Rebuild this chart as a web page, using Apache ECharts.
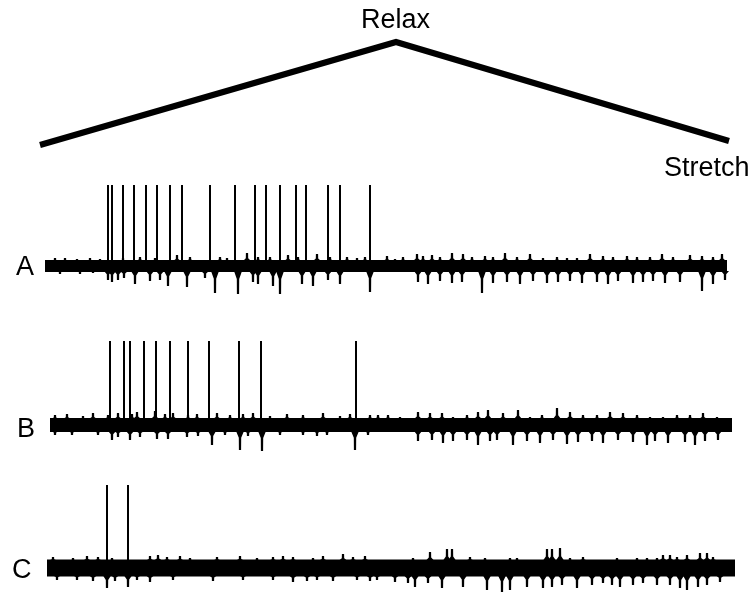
<!DOCTYPE html>
<html><head><meta charset="utf-8">
<script src="https://cdn.jsdelivr.net/npm/echarts@6/dist/echarts.min.js"></script>
<style>html,body{margin:0;padding:0;background:#fff}#c{width:755px;height:592px}</style>
</head><body><div id="c"></div>
<script>
// ---- Stimulus (muscle length ramp): time, relative length ----
const stimTime = [0, 356, 689];
const stimLength = [0, 103, 4];
const stimLabels = ['Relax', 'Stretch'];
const traceLabels = ['A', 'B', 'C'];

// ---- Trace A ----
const aSpan = [5, 687];
const aSpikes = [68, 72, 83, 94, 106, 117, 130, 142, 170, 195, 215, 226, 240, 256, 266, 288, 300, 330];
const aSpikeAmp = 81;
const aUp = [[15,8],[25,8],[37,7],[50,8],[60,7],
  [83,8],[100,9],[115,8],[137,11],[150,9],[180,9],[187,8],[207,13],[218,9],[230,9],[248,11],[258,9],[277,12],[290,9],[307,9],[317,8],[325,9],
  [347,10],[355,7],[363,9],[377,12],[383,10],[392,11],[400,9],[412,13],[423,12],[432,9],[445,10],[453,9],[465,13],[477,9],[490,12],[503,8],[517,9],[527,8],[537,8],[550,12],[563,10],[573,9],[587,10],[597,9],[610,9],[622,12],[633,9],[650,11],[662,10],[673,9],[682,12]];
const aDown = [[20,-8],[40,-8],[53,-7],
  [68,-14],[72,-16],[78,-14],[84,-12],[95,-18],[110,-15],[120,-14],[128,-20],[147,-21],[165,-12],[175,-27],[198,-28],[213,-16],[218,-18],[233,-20],[240,-28],[262,-18],[273,-20],[288,-14],[300,-18],[330,-26],
  [378,-16],[388,-18],[400,-15],[412,-17],[422,-16],[442,-27],[453,-17],[467,-16],[480,-18],[493,-15],[507,-17],[518,-16],[530,-15],[542,-17],[557,-16],[568,-18],[578,-15],[593,-17],[603,-16],[613,-15],[625,-17],[640,-16],[662,-25],[673,-18],[685,-14]];

// ---- Trace B ----
const bSpan = [10, 692];
const bSpikes = [70, 84, 90, 104, 116, 130, 148, 169, 199, 221, 316];
const bSpikeAmp = 84;
const bUp = [[15,10],[27,11],[43,9],[53,12],[68,10],[78,12],[92,11],[97,13],[115,14],[125,11],[133,12],[148,10],[157,11],[177,12],[190,10],[203,11],[213,12],[230,9],[247,11],[263,10],[283,12],[300,9],[310,11],[330,10],
  [338,10],[348,10],[360,8],[378,13],[390,12],[402,12],[413,8],[427,10],[438,13],[448,15],[463,12],[478,15],[490,8],[502,10],[517,17],[530,13],[543,10],[557,10],[570,13],[583,12],[597,10],[610,8],[623,8],[637,10],[650,10],[663,12],[677,8]];
const bDown = [[15,-10],[32,-10],[58,-10],[72,-15],[78,-12],[90,-15],[100,-12],[117,-14],[128,-14],[147,-12],[158,-11],[172,-20],[185,-10],[200,-25],[208,-11],[222,-26],[240,-10],[263,-10],[277,-11],[287,-10],[315,-25],[328,-10],
  [378,-16],[392,-15],[403,-18],[413,-16],[427,-15],[438,-20],[450,-16],[457,-15],[473,-20],[487,-16],[500,-18],[513,-15],[527,-19],[538,-17],[552,-16],[563,-18],[578,-15],[593,-17],[607,-20],[615,-16],[628,-18],[645,-17],[655,-20],[665,-16],[678,-15]];

// ---- Trace C ----
const cSpan = [7, 695];
const cSpikes = [67, 88];
const cSpikeAmp = 83;
const cUp = [[13,11],[33,10],[47,12],[58,11],[72,10],[110,12],[118,13],[127,11],[140,12],[150,10],[177,11],[200,12],[217,10],[233,11],[243,12],[253,11],[273,10],[283,12],[303,14],[313,11],[325,12],
  [373,10],[390,16],[407,19],[412,19],[430,11],[445,10],[465,8],[470,10],[477,10],[507,19],[512,19],[520,20],[530,10],[543,11],[557,8],[563,8],[577,10],[587,8],[597,10],[607,10],[617,10],[623,13],[630,13],[637,11],[647,13],[660,15],[667,15],[673,11],[688,8]];
const cDown = [[17,-12],[37,-12],[53,-13],[67,-20],[75,-13],[88,-19],[97,-12],[110,-14],[133,-12],[173,-13],[203,-12],[233,-12],[253,-14],[267,-13],[277,-12],[293,-13],[317,-12],[330,-13],
  [337,-12],[355,-14],[368,-15],[375,-19],[388,-15],[402,-20],[423,-19],[447,-22],[462,-24],[470,-22],[487,-19],[503,-20],[512,-19],[522,-17],[537,-20],[552,-17],[563,-15],[572,-17],[580,-19],[593,-17],[603,-15],[617,-17],[630,-17],[640,-20],[647,-22],[658,-19],[667,-17],[680,-14]];

// ---- layout ----
const gridTops = [176, 335, 478];
const bandWidths = [12, 14, 17];
const traces = [
  {span: aSpan, spikes: aSpikes, amp: aSpikeAmp, up: aUp, down: aDown},
  {span: bSpan, spikes: bSpikes, amp: bSpikeAmp, up: bUp, down: bDown},
  {span: cSpan, spikes: cSpikes, amp: cSpikeAmp, up: cUp, down: cDown}
];

function stick(w) {
  return function (params, api) {
    const p0 = api.coord([api.value(0), 0]);
    const p1 = api.coord([api.value(0), api.value(1)]);
    return {type: 'line', shape: {x1: p0[0], y1: p0[1], x2: p1[0], y2: p1[1]},
      style: {stroke: '#000', lineWidth: w, lineCap: 'butt'}};
  };
}
// tapered noise deflection: wide where it leaves the band, thin at the tip
function wedge(band) {
  return function (params, api) {
    const p0 = api.coord([api.value(0), 0]);
    const p1 = api.coord([api.value(0), api.value(1)]);
    const dir = p1[1] < p0[1] ? -1 : 1;
    const x = p0[0];
    const yEdge = p0[1] + dir * (band / 2 - 1);
    const yMid = yEdge + (p1[1] - yEdge) * 0.35;
    return {type: 'polygon', shape: {points: [
      [x - 4, yEdge], [x - 1.2, yMid], [x - 1.1, p1[1]], [x + 1.1, p1[1]], [x + 1.2, yMid], [x + 4, yEdge]
    ]}, style: {fill: '#000'}};
  };
}

const grid = [{left: 40, width: 700, top: 35, height: 110}];
const xAxis = [{gridIndex: 0, type: 'value', min: 0, max: 700, show: false}];
const yAxis = [{gridIndex: 0, type: 'value', min: 0, max: 110, show: false}];
const series = [{
  type: 'line', xAxisIndex: 0, yAxisIndex: 0, symbol: 'none', clip: false,
  data: stimTime.map((t, i) => [t, stimLength[i]]),
  lineStyle: {color: '#000', width: 6, cap: 'butt', join: 'miter'}
}];

traces.forEach((tr, k) => {
  const gi = k + 1;
  grid.push({left: 40, width: 700, top: gridTops[k], height: 114});
  xAxis.push({gridIndex: gi, type: 'value', min: 0, max: 700, show: false});
  yAxis.push({gridIndex: gi, type: 'value', min: -24, max: 90, show: false});
  series.push({
    type: 'line', xAxisIndex: gi, yAxisIndex: gi, symbol: 'none', clip: false,
    data: tr.span.map(t => [t, 0]),
    lineStyle: {color: '#000', width: bandWidths[k], cap: 'butt'}
  });
  series.push({
    type: 'custom', xAxisIndex: gi, yAxisIndex: gi, clip: false,
    renderItem: wedge(bandWidths[k]), data: tr.up.concat(tr.down)
  });
  series.push({
    type: 'custom', xAxisIndex: gi, yAxisIndex: gi, clip: false,
    renderItem: stick(2), data: tr.spikes.map(t => [t, tr.amp])
  });
});

const font = '"Liberation Sans", Arial, sans-serif';
const graphic = [
  {type: 'text', left: 361, top: 7, style: {text: stimLabels[0], font: '27px ' + font, fill: '#000'}},
  {type: 'text', left: 664, top: 155, style: {text: stimLabels[1], font: '27px ' + font, fill: '#000'}},
  {type: 'text', left: 16, top: 254, style: {text: traceLabels[0], font: '27px ' + font, fill: '#000'}},
  {type: 'text', left: 17, top: 416, style: {text: traceLabels[1], font: '27px ' + font, fill: '#000'}},
  {type: 'text', left: 12, top: 557, style: {text: traceLabels[2], font: '27px ' + font, fill: '#000'}}
];

const chart = echarts.init(document.getElementById('c'), null, {renderer: 'canvas'});
chart.setOption({animation: false, backgroundColor: '#fff', grid, xAxis, yAxis, series, graphic});
</script></body></html>
